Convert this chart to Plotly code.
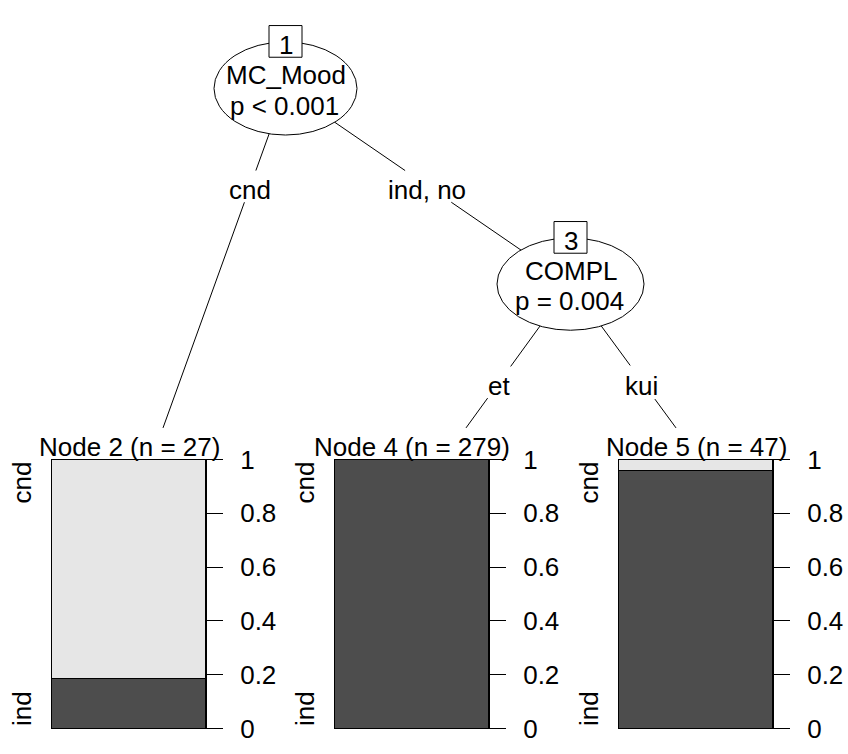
import plotly.graph_objects as go

# ---- data ----
terminal_nodes = ["Node 2", "Node 4", "Node 5"]
node_n = [27, 279, 47]
count_ind = [5, 279, 45]
count_cnd = [22, 0, 2]
class_levels = ["cnd", "ind"]
tick_values = [0, 0.2, 0.4, 0.6, 0.8, 1]
tick_labels = ["0", "0.2", "0.4", "0.6", "0.8", "1"]

inner_ids = ["1", "3"]
split_vars = ["MC_Mood", "COMPL"]
p_labels = ["p < 0.001", "p = 0.004"]
edge_labels = ["cnd", "ind, no", "et", "kui"]

# ---- layout geometry (pixels) ----
W, H = 848, 754
FONT = "Liberation Sans, Arial, sans-serif"
FS = 26
DARK = "#4D4D4D"
LIGHT = "#E6E6E6"

bar_left = [52, 335, 619]
bar_w = 154
bar_top, bar_bot = 463, 743

inner_pos = [(285.5, 76.5, 71.5, 48.5), (570.5, 280.2, 73.5, 48.1)]  # cx, cy, rx, ry
term_top = [(163, 430), (466, 430), (676, 430)]
edges = [
    (inner_pos[0][:2], term_top[0], (162, 195), (250, 182)),
    (inner_pos[0][:2], inner_pos[1][:2], (162, 195), (427, 182)),
    (inner_pos[1][:2], term_top[1], (366, 399), (499.5, 386)),
    (inner_pos[1][:2], term_top[2], (365, 400), (641, 386)),
]


def px(x):
    return x / W


def py(y):
    return 1 - y / H


fig = go.Figure()
shapes = []
annotations = []

# ---- terminal barplots ----
for i, name in enumerate(terminal_nodes):
    xa = "x" if i == 0 else f"x{i+1}"
    ya = "y" if i == 0 else f"y{i+1}"
    p_ind = count_ind[i] / node_n[i]
    p_cnd = count_cnd[i] / node_n[i]
    fig.add_trace(go.Bar(x=[0], y=[p_ind], width=1, xaxis=xa, yaxis=ya,
                         marker=dict(color=DARK, line=dict(color="black", width=1)),
                         showlegend=False, hoverinfo="skip"))
    fig.add_trace(go.Bar(x=[0], y=[p_cnd], width=1, xaxis=xa, yaxis=ya,
                         marker=dict(color=LIGHT, line=dict(color="black", width=1)),
                         showlegend=False, hoverinfo="skip"))
    suffix = "" if i == 0 else str(i + 1)
    fig.layout["xaxis" + suffix] = dict(
        domain=[px(bar_left[i]), px(bar_left[i] + bar_w)], range=[-0.5, 0.5],
        showline=True, mirror=True, linecolor="black", linewidth=1,
        showticklabels=False, ticks="", showgrid=False, zeroline=False,
        anchor=ya, fixedrange=True)
    fig.layout["yaxis" + suffix] = dict(
        domain=[py(bar_bot), py(bar_top)], range=[0, 1], side="right",
        showline=True, mirror=True, linecolor="black", linewidth=1,
        ticks="outside", ticklen=16, tickwidth=1, tickcolor="black",
        tickvals=tick_values, ticktext=tick_labels,
        tickfont=dict(family=FONT, size=FS, color="black"),
        ticklabelstandoff=12, ticklabeloverflow="allow",
        showgrid=False, zeroline=False, anchor=xa, fixedrange=True)
    # header label
    cx = bar_left[i] + bar_w / 2
    annotations.append(dict(x=px(cx), y=py(450), xref="paper", yref="paper",
                            text=f"{name} (n = {node_n[i]})", showarrow=False,
                            xanchor="center", yanchor="middle",
                            font=dict(family=FONT, size=FS, color="black")))
    # class labels (rotated)
    annotations.append(dict(x=px(bar_left[i] - 30), y=py(bar_top), xref="paper", yref="paper",
                            text=class_levels[0], textangle=-90, showarrow=False,
                            xanchor="center", yanchor="top",
                            font=dict(family=FONT, size=FS, color="black")))
    annotations.append(dict(x=px(bar_left[i] - 30), y=py(bar_bot), xref="paper", yref="paper",
                            text=class_levels[1], textangle=-90, showarrow=False,
                            xanchor="center", yanchor="bottom",
                            font=dict(family=FONT, size=FS, color="black")))

# ---- edges (broken where the edge label sits) ----
for (p0, p1, gap, lab), txt in zip(edges, edge_labels):
    (x0, y0), (x1, y1) = p0, p1

    def xat(y):
        return x0 + (x1 - x0) * (y - y0) / (y1 - y0)

    for ya_, yb_ in [(y0, gap[0]), (gap[1], y1)]:
        shapes.append(dict(type="line", xref="paper", yref="paper",
                           x0=px(xat(ya_)), y0=py(ya_), x1=px(xat(yb_)), y1=py(yb_),
                           line=dict(color="black", width=1)))
    annotations.append(dict(x=px(lab[0]), y=py(lab[1]), xref="paper", yref="paper",
                            text=txt, showarrow=False, xanchor="center", yanchor="middle",
                            font=dict(family=FONT, size=FS, color="black")))

# ---- inner nodes ----
for k, (cx, cy, rx, ry) in enumerate(inner_pos):
    shapes.append(dict(type="circle", xref="paper", yref="paper",
                       x0=px(cx - rx), x1=px(cx + rx), y0=py(cy + ry), y1=py(cy - ry),
                       fillcolor="white", line=dict(color="black", width=1)))
    top = cy - ry
    shapes.append(dict(type="rect", xref="paper", yref="paper",
                       x0=px(cx - 16.5), x1=px(cx + 16.5), y0=py(top + 16), y1=py(top - 17),
                       fillcolor="white", line=dict(color="black", width=1)))
    annotations.append(dict(x=px(cx), y=py(top + 3), xref="paper", yref="paper",
                            text=inner_ids[k], showarrow=False, xanchor="center", yanchor="middle",
                            font=dict(family=FONT, size=FS, color="black")))
    annotations.append(dict(x=px(cx + 0.5), y=py(cy - 14), xref="paper", yref="paper",
                            text=split_vars[k], showarrow=False, xanchor="center", yanchor="middle",
                            font=dict(family=FONT, size=FS, color="black")))
    annotations.append(dict(x=px(cx - 1), y=py(cy + 18), xref="paper", yref="paper",
                            text=p_labels[k], showarrow=False, xanchor="center", yanchor="middle",
                            font=dict(family=FONT, size=FS, color="black")))

fig.update_layout(width=W, height=H, margin=dict(l=0, r=0, t=0, b=0),
                  paper_bgcolor="white", plot_bgcolor="white", barmode="stack",
                  bargap=0, shapes=shapes, annotations=annotations,
                  font=dict(family=FONT, size=FS, color="black"))

post = ("document.documentElement.style.margin='0';"
        "document.documentElement.style.overflow='hidden';"
        "document.body.style.margin='0';document.body.style.overflow='hidden';")

fig.write_html("out.html", config={"displayModeBar": False}, post_script=post)
